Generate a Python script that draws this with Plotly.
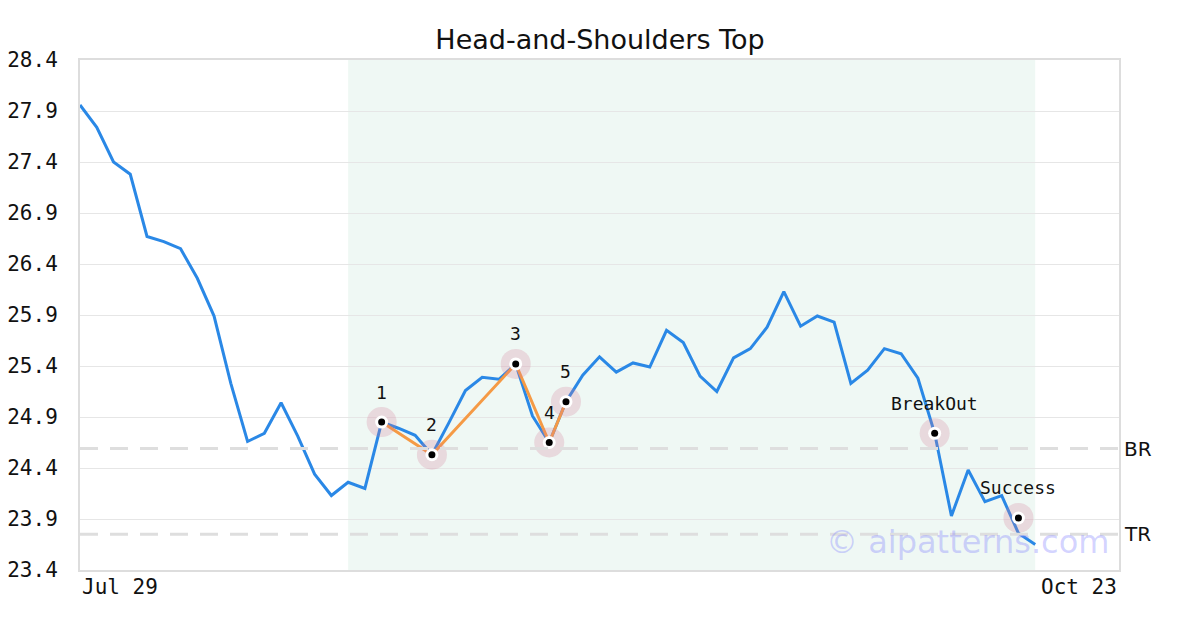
import plotly.graph_objects as go

# ---- data ----
prices = [27.96, 27.74, 27.40, 27.28, 26.67, 26.62, 26.55, 26.26, 25.89, 25.23,
          24.66, 24.74, 25.04, 24.71, 24.34, 24.13, 24.26, 24.20, 24.85, 24.79,
          24.72, 24.53, 24.84, 25.16, 25.29, 25.27, 25.42, 24.91, 24.65, 25.05,
          25.31, 25.49, 25.34, 25.43, 25.39, 25.75, 25.63, 25.30, 25.15, 25.48,
          25.57, 25.78, 26.13, 25.79, 25.89, 25.83, 25.23, 25.36, 25.57, 25.52,
          25.28, 24.74, 23.93, 24.38, 24.07, 24.13, 23.76, 23.65]
x_idx = list(range(len(prices)))

pattern_idx = [18, 21, 26, 28, 29]
pattern_val = [24.85, 24.53, 25.42, 24.65, 25.05]
pattern_lbl = ["1", "2", "3", "4", "5"]

event_idx = [51, 56]
event_val = [24.74, 23.91]
event_lbl = ["BreakOut", "Success"]

br_level = 24.59
tr_level = 23.75
level_labels = ["BR", "TR"]

shade_start, shade_end = 16, 57
x_range = [0, 62]
x_tick_labels = ["Jul 29", "Oct 23"]
y_ticks = [23.4, 23.9, 24.4, 24.9, 25.4, 25.9, 26.4, 26.9, 27.4, 27.9, 28.4]

MONO = "DejaVu Sans Mono"
SANS = "DejaVu Sans"

fig = go.Figure()

# shaded pattern region
fig.add_shape(type="rect", xref="x", yref="paper", x0=shade_start, x1=shade_end,
              y0=0, y1=1, fillcolor="rgb(239,248,244)", line_width=0, layer="below")

# BR / TR dashed lines
for lvl in (br_level, tr_level):
    fig.add_shape(type="line", xref="paper", yref="y", x0=0, x1=1, y0=lvl, y1=lvl,
                  line=dict(color="#dedede", width=3, dash="18px,12px"), layer="above")

# price line
fig.add_trace(go.Scatter(x=x_idx, y=prices, mode="lines",
                         line=dict(color="#2a88e6", width=3), hoverinfo="skip"))

# pattern connecting line
fig.add_trace(go.Scatter(x=pattern_idx, y=pattern_val, mode="lines",
                         line=dict(color="#f59a45", width=3), hoverinfo="skip"))

all_idx = pattern_idx + event_idx
all_val = pattern_val + event_val
all_lbl = pattern_lbl + event_lbl

# markers: halo, white ring, black dot
fig.add_trace(go.Scatter(x=all_idx, y=all_val, mode="markers",
                         marker=dict(size=30, color="rgba(210,125,150,0.25)", line_width=0),
                         hoverinfo="skip"))
fig.add_trace(go.Scatter(x=all_idx, y=all_val, mode="markers",
                         marker=dict(size=13, color="white", line_width=0), hoverinfo="skip"))
fig.add_trace(go.Scatter(x=all_idx, y=all_val, mode="markers",
                         marker=dict(size=7, color="black", line_width=0), hoverinfo="skip"))

for xi, yv, t in zip(all_idx, all_val, all_lbl):
    fig.add_annotation(x=xi, y=yv, text=t, showarrow=False, yshift=30,
                       font=dict(family=MONO, size=18, color="#111"))

# level labels
for lvl, t in zip((br_level, tr_level), level_labels):
    fig.add_annotation(xref="paper", x=1, y=lvl, text=t, showarrow=False,
                       xanchor="left", xshift=3, font=dict(family=SANS, size=20, color="#111"))

# x tick labels
fig.add_annotation(xref="paper", yref="paper", x=0, y=0, text=x_tick_labels[0],
                   showarrow=False, xanchor="left", yanchor="top", yshift=-3,
                   font=dict(family=MONO, size=21, color="#111"))
fig.add_annotation(xref="paper", yref="paper", x=1, y=0, text=x_tick_labels[1],
                   showarrow=False, xanchor="right", yanchor="top", yshift=-3,
                   font=dict(family=MONO, size=21, color="#111"))

# watermark
fig.add_annotation(xref="paper", yref="paper", x=0.992, y=0.055, text="© aipatterns.com",
                   showarrow=False, xanchor="right", yanchor="middle",
                   font=dict(family=SANS, size=32, color="rgba(130,130,255,0.35)"))

fig.update_layout(
    width=1200, height=630,
    margin=dict(l=80, r=81, t=60, b=60, autoexpand=False),
    paper_bgcolor="white", plot_bgcolor="white",
    showlegend=False,
    title=dict(text="Head-and-Shoulders Top", x=0.5, xanchor="center", y=0.937,
               yanchor="middle", font=dict(family=SANS, size=27, color="#111")),
    xaxis=dict(range=x_range, showgrid=False, zeroline=False, showticklabels=False,
               showline=True, mirror=True, linecolor="#dddddd", linewidth=2,
               fixedrange=True, automargin=False),
    yaxis=dict(range=[23.4, 28.4], tickvals=y_ticks, ticktext=[f"{v:.1f}" for v in y_ticks],
               showgrid=True, gridcolor="#e6e6e6", gridwidth=1, zeroline=False,
               showline=True, mirror=True, linecolor="#dddddd", linewidth=2,
               ticklabelstandoff=16, tickfont=dict(family=MONO, size=21, color="#111"),
               fixedrange=True, automargin=False),
)

fig.write_html("out.html", config={"displayModeBar": False},
               post_script="document.body.style.margin='0';document.body.style.overflow='hidden';")
